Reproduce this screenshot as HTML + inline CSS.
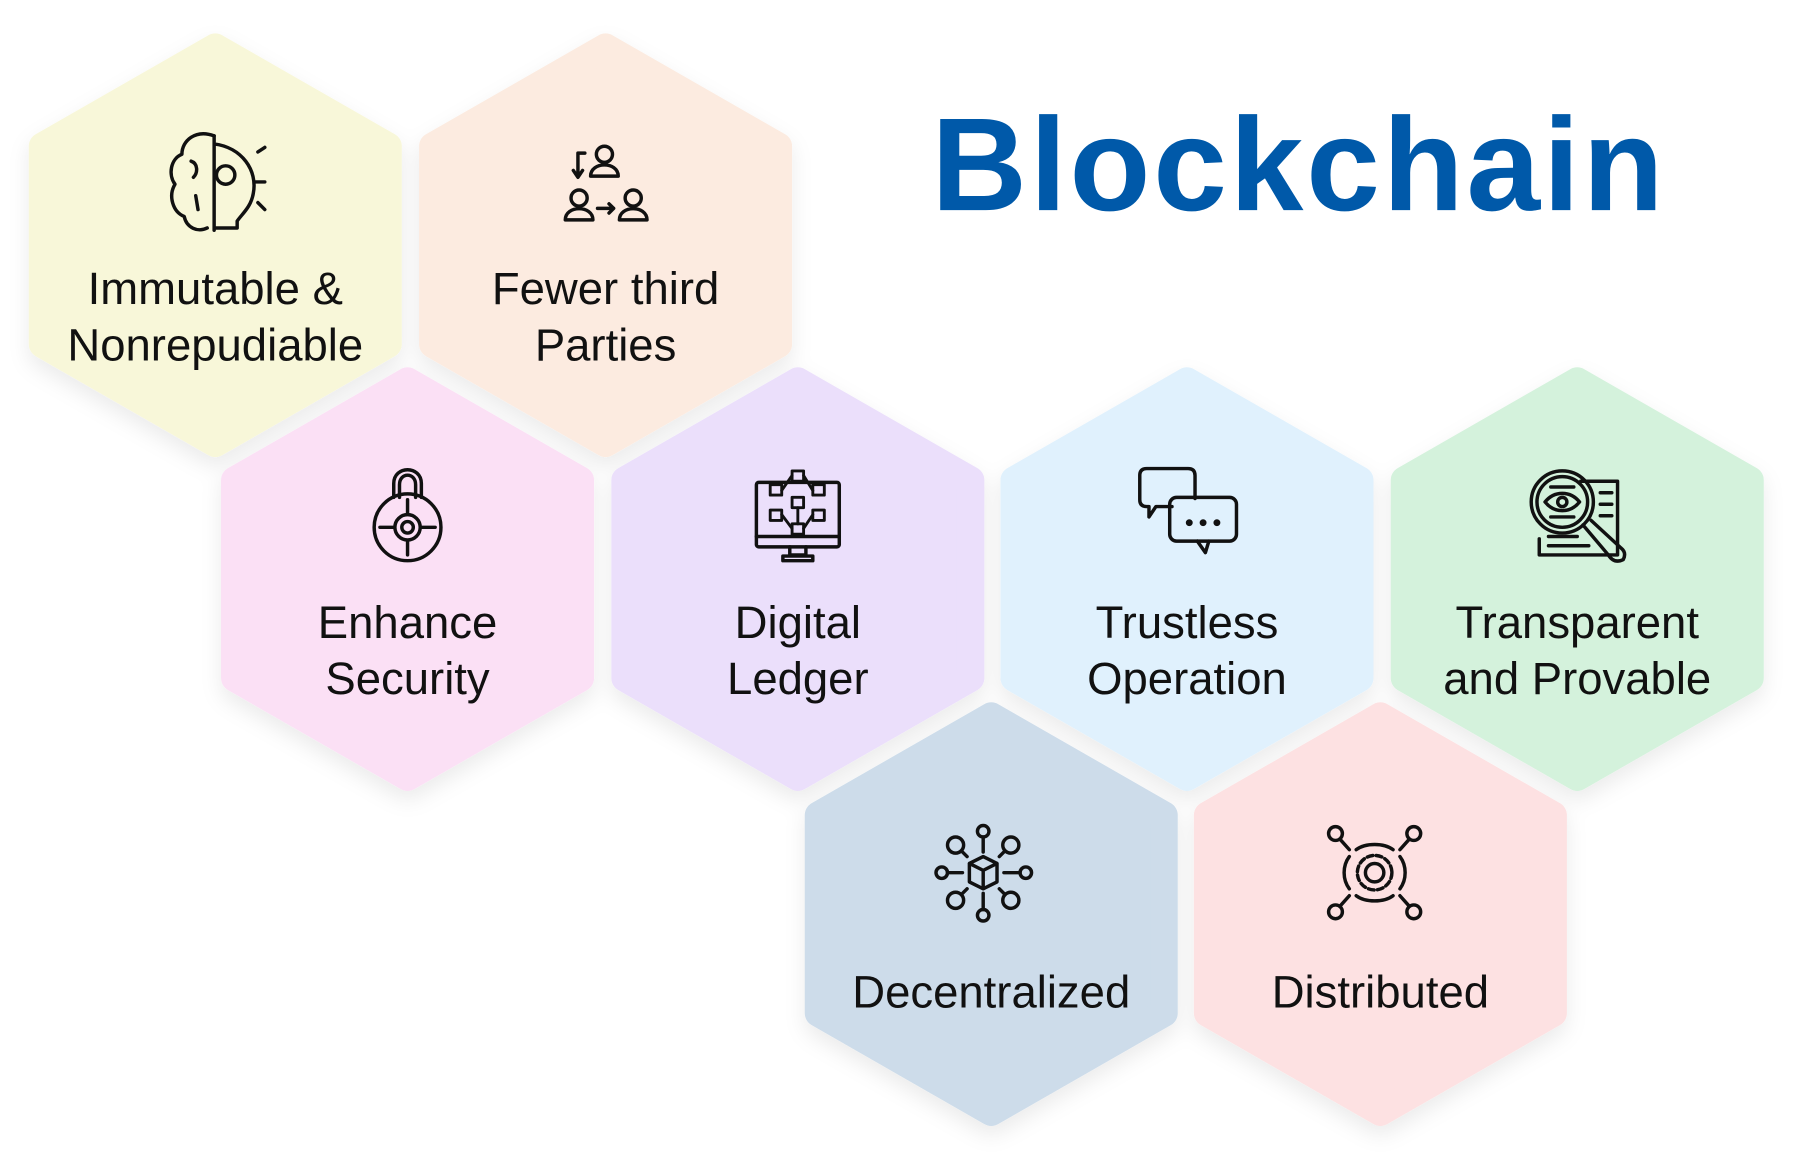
<!DOCTYPE html>
<html><head><meta charset="utf-8"><style>
html,body{margin:0;padding:0;background:#fff;width:1796px;height:1152px;overflow:hidden}
svg{display:block}
text{font-family:"Liberation Sans",sans-serif}
</style></head><body>
<svg width="1796" height="1152" viewBox="0 0 1560 1000.6" xmlns="http://www.w3.org/2000/svg">
<defs>
<filter id="sh" x="-20%" y="-20%" width="140%" height="140%"><feDropShadow dx="0" dy="8" stdDeviation="9" flood-color="#000" flood-opacity="0.08"/></filter>
</defs>
<g filter="url(#sh)">
<path fill="#f8f7d9" stroke="#f8f7d9" stroke-width="24" stroke-linejoin="round" d="M187,41 L337,127 L337,299 L187,385 L37,299 L37,127 Z"/>
<path fill="#fcebe0" stroke="#fcebe0" stroke-width="24" stroke-linejoin="round" d="M526,41 L676,127 L676,299 L526,385 L376,299 L376,127 Z"/>
<path fill="#fbe0f5" stroke="#fbe0f5" stroke-width="24" stroke-linejoin="round" d="M354,331 L504,417 L504,589 L354,675 L204,589 L204,417 Z"/>
<path fill="#ebdffb" stroke="#ebdffb" stroke-width="24" stroke-linejoin="round" d="M693,331 L843,417 L843,589 L693,675 L543,589 L543,417 Z"/>
<path fill="#e0f1fd" stroke="#e0f1fd" stroke-width="24" stroke-linejoin="round" d="M1031,331 L1181,417 L1181,589 L1031,675 L881,589 L881,417 Z"/>
<path fill="#d4f2dc" stroke="#d4f2dc" stroke-width="24" stroke-linejoin="round" d="M1370,331 L1520,417 L1520,589 L1370,675 L1220,589 L1220,417 Z"/>
<path fill="#cddcea" stroke="#cddcea" stroke-width="24" stroke-linejoin="round" d="M861,622 L1011,708 L1011,880 L861,966 L711,880 L711,708 Z"/>
<path fill="#fde1e2" stroke="#fde1e2" stroke-width="24" stroke-linejoin="round" d="M1199,622 L1349,708 L1349,880 L1199,966 L1049,880 L1049,708 Z"/>
</g>
<text x="809" y="182.5" font-size="115" font-weight="bold" fill="#0059a9" letter-spacing="2.5">Blockchain</text>
<g font-size="39.5" fill="#111" text-anchor="middle">
<text x="187" y="264">Immutable &amp;</text><text x="187" y="313">Nonrepudiable</text>
<text x="526" y="264">Fewer third</text><text x="526" y="313">Parties</text>
<text x="354" y="554">Enhance</text><text x="354" y="603">Security</text>
<text x="693" y="554">Digital</text><text x="693" y="603">Ledger</text>
<text x="1031" y="554">Trustless</text><text x="1031" y="603">Operation</text>
<text x="1370" y="554">Transparent</text><text x="1370" y="603">and Provable</text>
<text x="861" y="875">Decentralized</text>
<text x="1199" y="875">Distributed</text>
</g>
<g fill="none" stroke="#111" stroke-width="3" stroke-linecap="round" stroke-linejoin="round">
<path d="M186,118 C170,112 158,122 158,134 C148,138 146,152 152,160 C146,170 150,184 160,188 C162,198 172,202 180,198"/>
<path d="M186,118 L186,200 M186,125 C210,128 224,148 220,168 C218,180 210,186 206,192 L206,198 L186,198"/>
<circle cx="196" cy="152" r="8"/><path d="M224,132 L230,128 M222,158 L230,158 M224,176 L230,182 M166,140 C172,142 172,150 168,154 M170,170 L172,182"/>
<circle cx="525" cy="134" r="7"/><path d="M513,153 C513,140 537,140 537,153 Z"/>
<path d="M508,133 L502,133 L502,153 M498,148 L502,154 L506,148"/>
<circle cx="503" cy="172" r="7"/><path d="M491,191 C491,178 515,178 515,191 Z"/>
<circle cx="550" cy="172" r="7"/><path d="M538,191 C538,178 562,178 562,191 Z"/>
<path d="M519,181 L533,181 M529,177 L533,181 L529,185"/>
<path d="M342,432 L342,420 C342,404 366,404 366,420 L366,432"/>
<path d="M347,432 L347,421 C347,410 361,410 361,421 L361,432"/>
<circle cx="354" cy="458" r="29"/><circle cx="354" cy="458" r="11"/><circle cx="354" cy="458" r="5"/>
<path d="M330,458 L342,458 M366,458 L378,458 M354,434 L354,446 M354,470 L354,482"/>
<rect x="657" y="419" width="72" height="56" rx="2"/><path d="M657,466 L729,466 M686,475 L686,482 L700,482 L700,475 M680,487 L706,487 L706,483 L680,483 Z"/>
<g stroke-width="2.5"><rect x="688" y="409" width="10" height="9"/><rect x="669" y="421" width="10" height="9"/><rect x="706" y="421" width="10" height="9"/><rect x="688" y="432" width="10" height="9"/><rect x="669" y="443" width="10" height="9"/><rect x="706" y="443" width="10" height="9"/><rect x="688" y="455" width="10" height="9"/><path d="M693,441 L693,455 M679,426 L688,413 M706,426 L698,413 M679,447 L688,459 M706,447 L698,459"/></g>
<path d="M996,407 L1032,407 Q1038,407 1038,413 L1038,433 M1018,440 L1004,440 L998,449 L998,440 L996,440 Q990,440 990,434 L990,413 Q990,407 996,407"/>
<rect x="1016" y="432" width="58" height="38" rx="6"/><path d="M1040,470 L1047,480 L1050,470"/>
<circle cx="1033" cy="454" r="1.5" fill="#111"/><circle cx="1045" cy="454" r="1.5" fill="#111"/><circle cx="1057" cy="454" r="1.5" fill="#111"/>
<path d="M1373,418 L1405,418 L1405,482 L1337,482 L1337,468"/><path d="M1390,428 L1400,428 M1390,438 L1400,438 M1390,448 L1400,448 M1345,474 L1380,474 M1345,466 L1370,466"/>
<circle cx="1357" cy="436" r="27"/><circle cx="1357" cy="436" r="22"/>
<path d="M1342,436 C1350,426 1364,426 1372,436 C1364,446 1350,446 1342,436 Z"/><circle cx="1357" cy="436" r="4"/>
<path d="M1347,423 L1367,423 M1347,449 L1367,449 M1375,456 L1397,482 Q1402,490 1410,486 Q1413,480 1408,476 L1382,452"/>
<path d="M842,750 L854,744 L866,750 L866,766 L854,772 L842,766 Z M842,750 L854,756 L866,750 M854,756 L854,772"/>
<circle cx="854" cy="722" r="5"/><path d="M854,727 L854,740"/><circle cx="854" cy="795" r="5"/><path d="M854,776 L854,790"/>
<circle cx="818" cy="758" r="5"/><path d="M823,758 L836,758"/><circle cx="891" cy="758" r="5"/><path d="M872,758 L886,758"/>
<circle cx="830" cy="734" r="7"/><path d="M835,739 L840,744"/><circle cx="878" cy="734" r="7"/><path d="M873,739 L868,744"/>
<circle cx="830" cy="782" r="7"/><path d="M835,777 L840,772"/><circle cx="878" cy="782" r="7"/><path d="M873,777 L868,772"/>
<circle cx="1194" cy="758" r="8"/><circle cx="1194" cy="758" r="15" stroke-dasharray="5 3"/>
<path d="M1178,738 C1186,732 1202,732 1210,738 M1216,744 C1222,752 1222,764 1216,772 M1210,778 C1202,784 1186,784 1178,778 M1172,772 C1166,764 1166,752 1172,744"/>
<circle cx="1160" cy="724" r="6"/><circle cx="1228" cy="724" r="6"/><circle cx="1160" cy="792" r="6"/><circle cx="1228" cy="792" r="6"/>
<path d="M1164,729 L1172,738 M1224,729 L1216,738 M1164,787 L1172,778 M1224,787 L1216,778"/>
</g>
</svg>
</body></html>
